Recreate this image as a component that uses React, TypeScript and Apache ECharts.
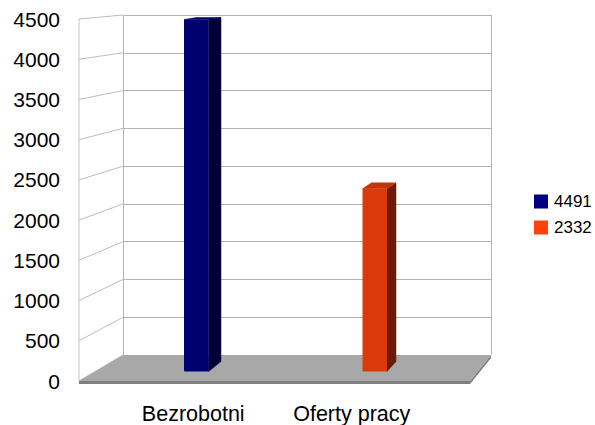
import React, { useEffect, useRef } from "react";
import * as echarts from "echarts";

const categories = ["Bezrobotni", "Oferty pracy"];
const seriesNames = ["4491", "2332"];
const seriesValues = [4491, 2332];
const yTicks = [0, 500, 1000, 1500, 2000, 2500, 3000, 3500, 4000, 4500];
const legendColors = ["#000080", "#ff420e"];
const frontColors = ["#000070", "#dd3a0c"];
const sideColors = ["#000038", "#6b1c06"];
const topColors = ["#000060", "#c2330a"];

const FRONT = { left: 79, top: 19, bottom: 381 };
const BACK = { left: 123, right: 491, top: 15, bottom: 355 };
const FLOOR_FRONT_RIGHT = 470;
const FONT = "'Liberation Sans', Arial, sans-serif";

export default function App() {
  const ref = useRef<HTMLDivElement>(null);
  useEffect(() => {
    const chart = echarts.init(ref.current!, undefined, { renderer: "svg" });

    const wallItem = (_p: any, api: any) => {
      const v = api.value(0);
      const fy = FRONT.bottom - (v / 4500) * (FRONT.bottom - FRONT.top);
      const by = BACK.bottom - (v / 4500) * (BACK.bottom - BACK.top);
      return {
        type: "line",
        shape: { x1: FRONT.left, y1: fy, x2: BACK.left, y2: by },
        style: { stroke: "#bdbdbd", lineWidth: 1 },
      };
    };

    const floorItem = () => ({
      type: "group",
      children: [
        {
          type: "polygon",
          shape: {
            points: [
              [FRONT.left, FRONT.bottom],
              [FLOOR_FRONT_RIGHT, FRONT.bottom],
              [BACK.right, BACK.bottom],
              [BACK.right, BACK.bottom + 3],
              [FLOOR_FRONT_RIGHT, FRONT.bottom + 3],
              [FRONT.left, FRONT.bottom + 3],
            ],
          },
          style: { fill: "#7f7f7f" },
        },
        {
          type: "polygon",
          shape: {
            points: [
              [BACK.left, BACK.bottom],
              [BACK.right, BACK.bottom],
              [FLOOR_FRONT_RIGHT, FRONT.bottom],
              [FRONT.left, FRONT.bottom],
            ],
          },
          style: { fill: "#a8a8a8" },
        },
        {
          type: "line",
          shape: { x1: FRONT.left, y1: FRONT.top, x2: FRONT.left, y2: FRONT.bottom },
          style: { stroke: "#c4c4c4", lineWidth: 1 },
        },
      ],
    });

    const barItem = (colorIndex: number) => (_p: any, api: any) => {
      const top = api.coord([api.value(0), api.value(1)]);
      const base = api.coord([api.value(0), 0]);
      const w = api.size([1, 0])[0] * 0.1372;
      const l = top[0] - w / 2;
      const r = top[0] + w / 2;
      const dx = 12.5 - (r - 208.5) * (3.5 / 178.5);
      const dyOf = (y: number) => 2 + ((y - 19) / 352) * 8;
      const dTop = dyOf(top[1]);
      const dBase = dyOf(base[1]);
      return {
        type: "group",
        children: [
          {
            type: "polygon",
            shape: {
              points: [
                [r, top[1]],
                [r + dx, top[1] - dTop],
                [r + dx, base[1] - dBase],
                [r, base[1]],
              ],
            },
            style: { fill: sideColors[colorIndex], stroke: sideColors[colorIndex], lineWidth: 0.5 },
          },
          {
            type: "polygon",
            shape: {
              points: [
                [l, top[1]],
                [l + dx, top[1] - dTop],
                [r + dx, top[1] - dTop],
                [r, top[1]],
              ],
            },
            style: { fill: topColors[colorIndex], stroke: topColors[colorIndex], lineWidth: 0.5 },
          },
          {
            type: "rect",
            shape: { x: l, y: top[1], width: w, height: base[1] - top[1], r: 1 },
            style: { fill: frontColors[colorIndex] },
          },
        ],
      };
    };

    chart.setOption({
      animation: false,
      backgroundColor: "#ffffff",
      textStyle: { fontFamily: FONT },
      grid: [
        { left: 114, width: 317, top: FRONT.top, height: FRONT.bottom - FRONT.top, containLabel: false },
        { left: BACK.left, width: BACK.right - BACK.left, top: BACK.top, height: BACK.bottom - BACK.top },
        { left: 107, width: 357, top: 18.8, height: 352.7 },
      ],
      xAxis: [
        {
          gridIndex: 0,
          type: "category",
          data: categories,
          axisLine: { show: false },
          axisTick: { show: false },
          axisLabel: { fontSize: 21.5, color: "#000", margin: 22, fontFamily: FONT },
        },
        {
          gridIndex: 1,
          type: "value",
          min: 0,
          max: 1,
          interval: 1,
          axisLine: { show: false },
          axisTick: { show: false },
          axisLabel: { show: false },
          splitLine: { show: true, lineStyle: { color: "#b3b3b3", width: 1 } },
        },
        { gridIndex: 2, type: "category", data: categories, show: false },
      ],
      yAxis: [
        {
          gridIndex: 0,
          type: "value",
          min: 0,
          max: 4500,
          interval: 500,
          axisLine: { show: false },
          axisTick: { show: false },
          splitLine: { show: false },
          axisLabel: {
            fontSize: 21,
            color: "#000",
            margin: 54,
            fontFamily: FONT,
            formatter: (v: number) => String(v),
          },
        },
        {
          gridIndex: 1,
          type: "value",
          min: 0,
          max: 4500,
          interval: 500,
          axisLine: { show: false },
          axisTick: { show: false },
          axisLabel: { show: false },
          splitLine: { show: true, lineStyle: { color: "#b3b3b3", width: 1 } },
        },
        { gridIndex: 2, type: "value", min: 0, max: 4500, interval: 500, show: false },
      ],
      legend: {
        data: seriesNames,
        orient: "vertical",
        left: 529,
        top: 188,
        itemWidth: 14,
        itemHeight: 14,
        itemGap: 9,
        icon: "rect",
        textStyle: { fontSize: 17, color: "#000", fontFamily: FONT, padding: [2, 0, 0, 1] },
      },
      series: [
        {
          type: "custom",
          name: "walls",
          xAxisIndex: 0,
          yAxisIndex: 0,
          z: 1,
          silent: true,
          data: yTicks.map((t) => [t]),
          encode: { y: 0 },
          renderItem: wallItem,
        },
        {
          type: "custom",
          name: "floor",
          xAxisIndex: 0,
          yAxisIndex: 0,
          z: 2,
          silent: true,
          data: [[0]],
          encode: { y: 0 },
          renderItem: floorItem,
        },
        ...seriesNames.map((name, i) => ({
          type: "custom",
          name,
          xAxisIndex: 2,
          yAxisIndex: 2,
          z: 3,
          itemStyle: { color: legendColors[i] },
          data: [[i, seriesValues[i]]],
          encode: { x: 0, y: 1 },
          renderItem: barItem(i),
        })),
      ],
    });
    return () => chart.dispose();
  }, []);
  return <div ref={ref} style={{ position: "absolute", left: 0, top: 0, width: 595, height: 425 }} />;
}
